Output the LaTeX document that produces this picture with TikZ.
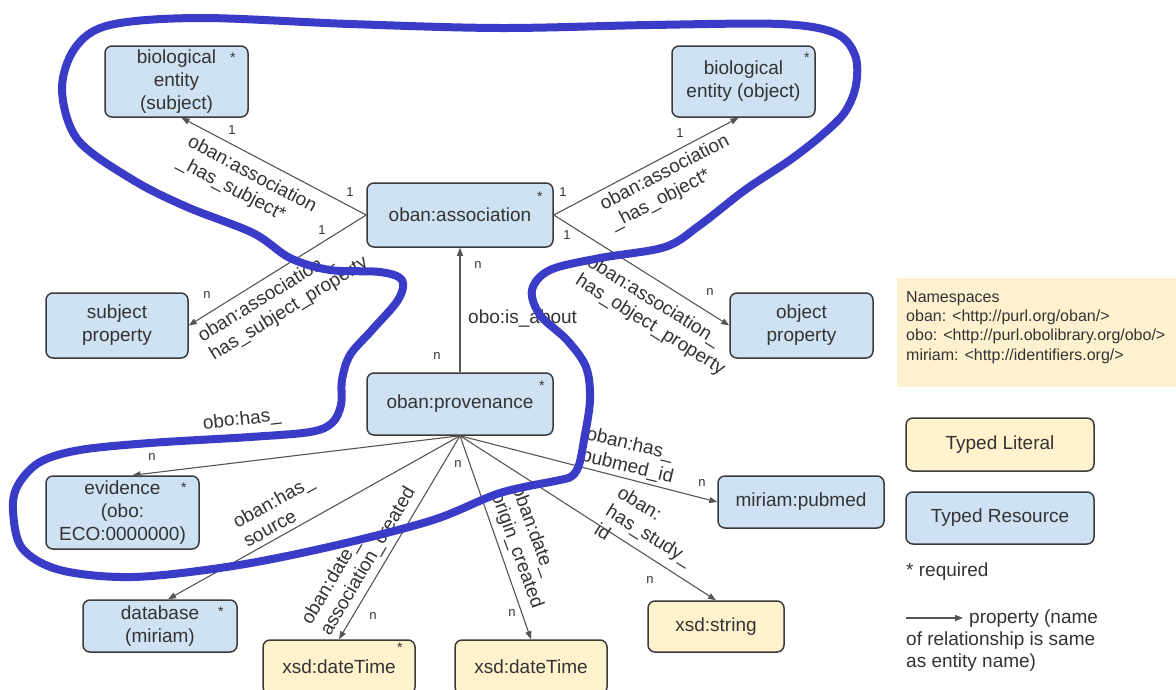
\documentclass[tikz,border=0pt]{standalone}
\usepackage{fontspec}
\setmainfont{Liberation Sans}
\usetikzlibrary{arrows.meta,calc}
\definecolor{resfill}{HTML}{CFE2F3}
\definecolor{litfill}{HTML}{FFF2CC}
\definecolor{nsfill}{HTML}{FDF1CF}
\definecolor{boxline}{HTML}{3A3A3A}
\definecolor{txt}{HTML}{333333}
\definecolor{edgecol}{HTML}{555555}
\definecolor{loopblue}{RGB}{58,60,200}
\begin{document}
\begin{tikzpicture}[x=1pt,y=-1pt,
  box/.style={draw=boxline, line width=1.5pt, rounded corners=7pt, inner sep=0pt, align=center, text=txt, font=\fontsize{19}{23}\selectfont},
  res/.style={box, fill=resfill},
  lit/.style={box, fill=litfill},
  rel/.style={draw=edgecol, line width=1.1pt, -{Triangle[length=8pt,width=6pt]}},
  lab/.style={text=txt, font=\fontsize{19}{22}\selectfont, align=left, inner sep=0pt},
  card/.style={text=txt, font=\fontsize{13}{13}\selectfont, inner sep=0pt},
  req/.style={text=txt, font=\fontsize{14}{14}\selectfont, inner sep=0pt},
  loopline/.style={draw=loopblue, line width=8pt, line cap=round, line join=round},
]
\useasboundingbox (0,0) rectangle (1176,689);
\fill[white] (0,0) rectangle (1176,689);

% nodes
\node[res, minimum width=143pt, minimum height=71pt] (subj) at (176.5,81.5) {biological\\entity\\(subject)};
\node[res, minimum width=143pt, minimum height=71pt] (obj) at (743.5,81.5) {biological\\entity (object)};
\node[res, minimum width=186pt, minimum height=64pt] (assoc) at (460,215) {oban:association};
\node[res, minimum width=142pt, minimum height=65pt] (sprop) at (117,325.5) {subject\\property};
\node[res, minimum width=143pt, minimum height=65pt] (oprop) at (801.5,325.5) {object\\property};
\node[res, minimum width=186pt, minimum height=62pt] (prov) at (460,404) {oban:provenance};
\node[res, minimum width=153pt, minimum height=73pt] (evid) at (122.5,512.5) {evidence\\(obo:\\ECO:0000000)};
\node[res, minimum width=154pt, minimum height=52pt] (db) at (160,626) {database\\(miriam)};
\node[lit, minimum width=152pt, minimum height=54pt] (dta) at (339,667) {xsd:dateTime};
\node[lit, minimum width=152pt, minimum height=54pt] (dtb) at (531,667) {xsd:dateTime};
\node[lit, minimum width=136pt, minimum height=51pt] (str) at (716,626.5) {xsd:string};
\node[res, minimum width=166pt, minimum height=52pt] (pub) at (801,502) {miriam:pubmed};

% required stars
\node[req] (st1) at ($(subj.north east)+(-16,12)$) {*};
\node[req] (st2) at ($(obj.north east)+(-9,12)$) {*};
\node[req] (st3) at ($(assoc.north east)+(-14,14)$) {*};
\node[req] (st4) at ($(prov.north east)+(-12,13)$) {*};
\node[req] (st5) at ($(evid.north east)+(-16,12)$) {*};
\node[req] (st6) at ($(db.north east)+(-17,12)$) {*};
\node[req] (st7) at ($(dta.north east)+(-16,8)$) {*};

% connectors
\draw[rel] (assoc.west) -- ([xshift=5pt]subj.south);
\draw[rel] (assoc.west) -- (sprop.east);
\draw[rel] (assoc.east) -- ([xshift=-5pt]obj.south);
\draw[rel] (assoc.east) -- (oprop.west);
\draw[rel] (prov.north) -- (assoc.south);
\draw[rel] (prov.south) -- ([xshift=10pt]evid.north);
\draw[rel] (prov.south) -- ([xshift=8pt]db.north);
\draw[rel] (prov.south) -- (dta.north);
\draw[rel] (prov.south) -- (dtb.north);
\draw[rel] (prov.south) -- (str.north);
\draw[rel] (prov.south) -- (pub.west);

% connector labels
\node[lab, rotate=-28] (l1) at (246.8,184.7) {oban:association\\\_has\_subject*};
\node[lab, rotate=31.5] (l2) at (283.3,299.9) {oban:association\_\\has\_subject\_property};
\node[lab, rotate=27.5] (l3) at (670,182.8) {oban:association\\\_has\_object*};
\node[lab, rotate=-32] (l4) at (656,316) {oban:association\_\\has\_object\_property};
\node[lab, anchor=west] (l5) at (468,318) {obo:is\_about};
\node[lab, rotate=6.3] (l6) at (242,420) {obo:has\_};
\node[lab, rotate=28.6] (l7) at (278.3,510.7) {oban:has\_\\source};
\node[lab, rotate=59.6] (l8) at (359,556) {oban:date\_\\association\_created};
\node[lab, rotate=-70] (l9) at (527,547) {oban:date\_\\origin\_created};
\node[lab, rotate=-31.7] (l10) at (649.5,534.7) {oban:\\has\_study\_\\id};
\node[lab, rotate=-13.5] (l11) at (629.8,456.3) {oban:has\_\\pubmed\_id};

% cardinalities
\node[card] (c1) at (232,130) {1};
\node[card] (c2) at (350,192) {1};
\node[card] (c3) at (322,230) {1};
\node[card] (c4) at (207,295) {n};
\node[card] (c5) at (563,192) {1};
\node[card] (c6) at (680,133) {1};
\node[card] (c7) at (567,235) {1};
\node[card] (c8) at (710,292) {n};
\node[card] (c9) at (478,265) {n};
\node[card] (c10) at (437,356) {n};
\node[card] (c11) at (152,457) {n};
\node[card] (c12) at (458,464) {n};
\node[card] (c13) at (373,616) {n};
\node[card] (c14) at (512,613) {n};
\node[card] (c15) at (650,580) {n};
\node[card] (c16) at (702,483) {n};

% legend
\node[fill=nsfill, minimum width=279pt, minimum height=109pt, inner sep=0pt] (nsbox) at (1036.5,332.5) {};
\node[text=txt, font=\fontsize{16}{19.3}\selectfont, align=left, anchor=north west, inner sep=0pt] (nstext) at (906,291) {Namespaces\\oban: <http://purl.org/oban/>\\obo: <http://purl.obolibrary.org/obo/>\\miriam: <http://identifiers.org/>};
\node[lit, minimum width=188pt, minimum height=53pt] (leglit) at (1000,444.5) {Typed Literal};
\node[res, minimum width=188pt, minimum height=52pt] (legres) at (1000,518) {Typed Resource};
\node[lab, anchor=west] (reqtext) at (906,572) {* required};
\coordinate (arrA) at (906,618);
\coordinate (arrB) at (963,618);
\draw[rel] (arrA) -- (arrB);
\node[lab, anchor=north west] (legtext) at (906,610) {\hspace*{63pt}property (name\\of relationship is same\\as entity name)};

% hand-drawn blue outline
\draw[loopline] plot[smooth cycle, tension=0.55] coordinates {
 (62,90) (75,48) (110,25) (200,18) (350,24) (500,28) (650,25) (780,24) (835,33) (855,55) (856,85) (845,112) (822,135) (790,160) (745,190) (700,225) (665,247) (600,258) (550,270) (532,290) (540,315) (567,340) (586,367) (590,400) (584,440) (579,465) (572,476) (560,480) (500,493) (433,520) (333,546) (233,566) (133,577) (60,570) (22,548) (13,510) (18,485) (40,462) (80,450) (150,443) (250,437) (310,432) (332,423) (341,405) (342,380) (350,355) (372,330) (398,300) (402,280) (380,272) (330,270) (290,258) (253,233) (187,207) (133,180) (78,140)
};
\end{tikzpicture}
\end{document}
